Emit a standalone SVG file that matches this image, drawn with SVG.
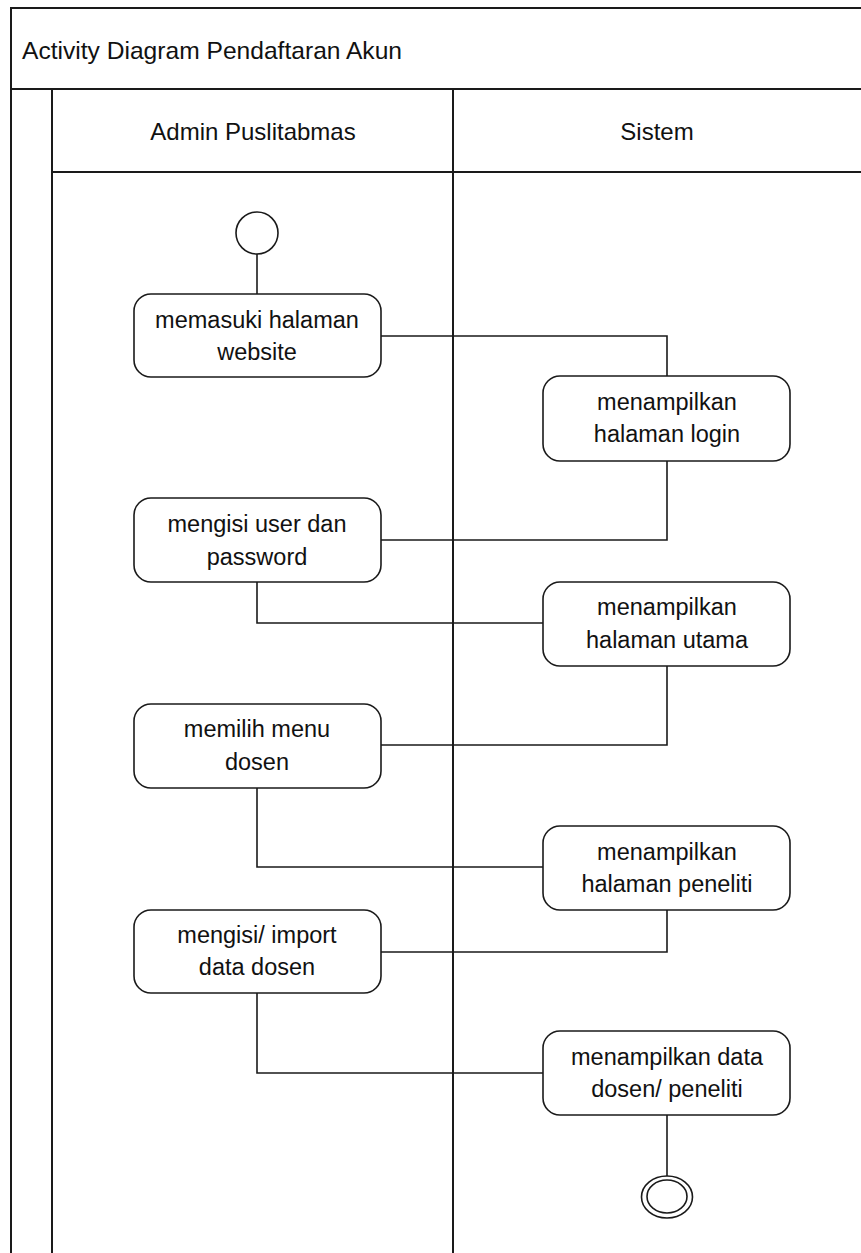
<svg xmlns="http://www.w3.org/2000/svg" width="861" height="1253" viewBox="0 0 861 1253">
<style>
.frame{fill:none;stroke:#1a1a1a;stroke-width:2}
.node{fill:#fff;stroke:#1a1a1a;stroke-width:1.6}
.conn{fill:none;stroke:#1a1a1a;stroke-width:1.6}
text{font-family:"Liberation Sans",Arial,sans-serif;font-size:23.5px;fill:#111;text-anchor:middle}
.title{text-anchor:start;font-size:24.6px}
.lane{font-size:24px}
</style>
<rect width="861" height="1253" fill="#fff"/>
<g id="frame">
<path class="frame" d="M11,1253 V8 H861 M11,89 H861 M52,1253 V89 M453,1253 V89 M52,172 H861"/>
<text class="title" x="22" y="59">Activity Diagram Pendaftaran Akun</text>
<text class="lane" x="253" y="140">Admin Puslitabmas</text>
<text class="lane" x="657" y="140">Sistem</text>
</g>
<g id="connectors">
<path class="conn" d="M257,254 V294"/>
<path class="conn" d="M381,336 H667 V376"/>
<path class="conn" d="M667,461 V540 H381"/>
<path class="conn" d="M257,582 V623 H543"/>
<path class="conn" d="M667,666 V745 H381"/>
<path class="conn" d="M257,788 V867 H543"/>
<path class="conn" d="M667,910 V952 H381"/>
<path class="conn" d="M257,993 V1073 H543"/>
<path class="conn" d="M667,1115 V1176"/>
</g>
<g id="start"><circle class="node" cx="257" cy="233" r="21"/></g>
<g id="n1"><rect class="node" x="134" y="294" width="247" height="83" rx="17"/><text x="257" y="328">memasuki halaman</text><text x="257" y="360">website</text></g>
<g id="n2"><rect class="node" x="543" y="376" width="247" height="85" rx="17"/><text x="667" y="410">menampilkan</text><text x="667" y="442">halaman login</text></g>
<g id="n3"><rect class="node" x="134" y="498" width="247" height="84" rx="17"/><text x="257" y="532">mengisi user dan</text><text x="257" y="565">password</text></g>
<g id="n4"><rect class="node" x="543" y="582" width="247" height="84" rx="17"/><text x="667" y="615">menampilkan</text><text x="667" y="648">halaman utama</text></g>
<g id="n5"><rect class="node" x="134" y="704" width="247" height="84" rx="17"/><text x="257" y="737">memilih menu</text><text x="257" y="770">dosen</text></g>
<g id="n6"><rect class="node" x="543" y="826" width="247" height="84" rx="17"/><text x="667" y="860">menampilkan</text><text x="667" y="892">halaman peneliti</text></g>
<g id="n7"><rect class="node" x="134" y="910" width="247" height="83" rx="17"/><text x="257" y="943">mengisi/ import</text><text x="257" y="975">data dosen</text></g>
<g id="n8"><rect class="node" x="543" y="1031" width="247" height="84" rx="17"/><text x="667" y="1065">menampilkan data</text><text x="667" y="1097">dosen/ peneliti</text></g>
<g id="end"><ellipse class="node" cx="667" cy="1197" rx="25.5" ry="21"/><ellipse class="node" cx="667" cy="1196.5" rx="20" ry="16.5"/></g>
</svg>
